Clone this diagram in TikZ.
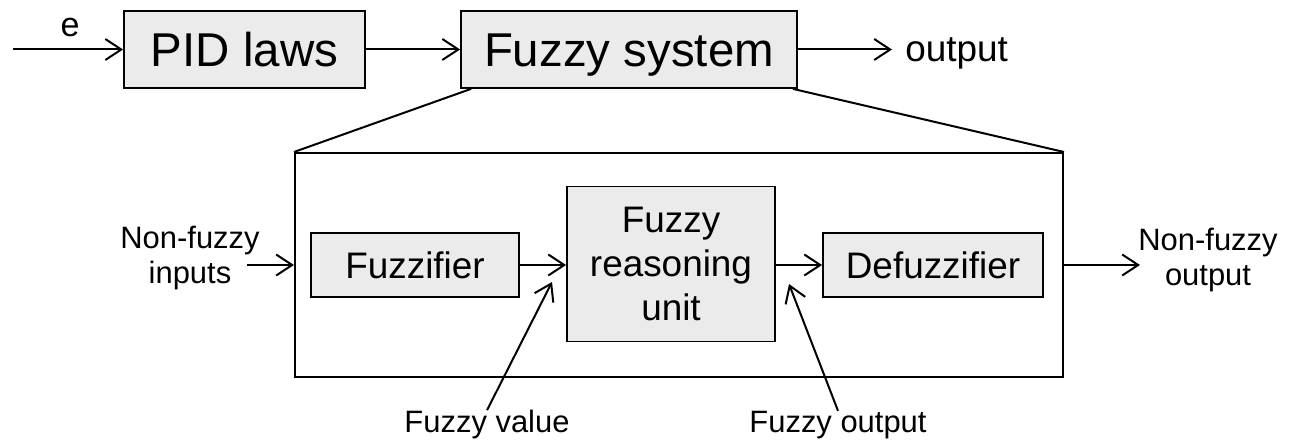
\documentclass[tikz,border=0pt]{standalone}
\usepackage{fontspec}
\setmainfont{Liberation Sans}
\usetikzlibrary{positioning, arrows.meta}

\begin{document}
\begin{tikzpicture}[x=0.2mm, y=-0.2mm,
        block/.style = {draw, fill=black!8, line width=0.35mm, inner sep=0pt, align=center},
        bigfont/.style = {font=\fontsize{27}{32}\selectfont},
        midfont/.style = {font=\fontsize{21}{24.8}\selectfont},
        smalltext/.style = {font=\fontsize{17.6}{20}\selectfont, align=center, inner sep=0pt},
        flow/.style = {line width=0.4mm, -{Straight Barb[length=3.2mm, width=4.2mm]}},
    ]
        \useasboundingbox (0,0) rectangle (1293,441);

        \node[block, bigfont, minimum width=48.2mm, minimum height=15.4mm] (pid) at (244.5,49.5) {PID laws};
        \node[block, bigfont, minimum width=67.2mm, minimum height=15.4mm, text height=21.6pt, text depth=2.3pt] (fsys) at (629,49.5) {Fuzzy system};
        \node[draw, line width=0.4mm, minimum width=153.6mm, minimum height=44.8mm] (inner) at (679,265) {};

        \node[block, midfont, minimum width=41.6mm, minimum height=12.8mm] (fuzz) at (415,265) {Fuzzifier};
        \node[block, midfont, minimum width=41.6mm, minimum height=31mm] (reason) at (671,264) {Fuzzy\\reasoning\\unit};
        \node[block, midfont, minimum width=44mm, minimum height=12.8mm] (defuzz) at (933,265) {Defuzzifier};

        \node[font=\fontsize{19.4}{22}\selectfont, inner sep=0pt] (e) at (70,27) {e};
        \node[midfont, anchor=west, inner sep=0pt] (out) at (905,53) {output};
        \node[smalltext] (nfin) at (190,258) {Non-fuzzy\\inputs};
        \node[smalltext] (nfout) at (1208,260) {Non-fuzzy\\output};
        \node[smalltext] (fval) at (487,425) {Fuzzy value};
        \node[smalltext] (fout) at (838,425) {Fuzzy output};

        \coordinate (ein) at (13,49.5);
        \coordinate (outtip) at (892,49.5);
        \coordinate (nfinstart) at (247,265);
        \coordinate (nfouttip) at (1140,265);
        \coordinate (fvaltip) at (552,282);
        \coordinate (fouttip) at (789,284);

        \draw[flow] (ein) -- (pid);
        \draw[flow] (pid) -- (fsys);
        \draw[flow] (fsys) -- (outtip);
        \draw[line width=0.4mm] ([xshift=2.2mm]fsys.south west) -- (inner.north west);
        \draw[line width=0.4mm] ([xshift=-1mm]fsys.south east) -- (inner.north east);

        \draw[flow] (nfinstart) -- (inner.west);
        \draw[flow] (fuzz) -- (reason.west |- fuzz.east);
        \draw[flow] (reason.east |- defuzz.west) -- (defuzz);
        \draw[flow] (inner.east) -- (nfouttip);
        \draw[flow] (fval.north) -- (fvaltip);
        \draw[flow] (fout.north) -- (fouttip);
    \end{tikzpicture}
\end{document}
